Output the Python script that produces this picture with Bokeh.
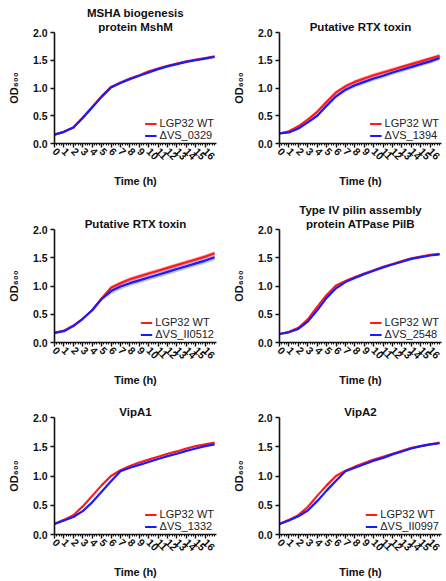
import math
from bokeh.plotting import figure
from bokeh.layouts import gridplot
from bokeh.models import Title, Legend, LegendItem, FixedTicker, ColumnDataSource, Range1d, CustomJSTickFormatter
from bokeh.embed import file_html
from bokeh.resources import INLINE

time_h = [0, 1, 2, 3, 4, 5, 6, 7, 8, 9, 10, 11, 12, 13, 14, 15, 16, 17]
x_ticks = list(range(0, 17))
y_ticks = [0.0, 0.5, 1.0, 1.5, 2.0]

wt_label = "LGP32 WT"

titles = [
    ["MSHA biogenesis", "protein MshM"],
    ["Putative RTX toxin"],
    ["Putative RTX toxin"],
    ["Type IV pilin assembly", "protein ATPase PilB"],
    ["VipA1"],
    ["VipA2"],
]
mutant_labels = ["ΔVS_0329", "ΔVS_1394", "ΔVS_II0512", "ΔVS_2548", "ΔVS_1332", "ΔVS_II0997"]

wt1 = [0.16, 0.21, 0.29, 0.47, 0.66, 0.85, 1.02, 1.10, 1.17, 1.23, 1.30, 1.35, 1.40, 1.44, 1.48, 1.51, 1.54, 1.57]
mut1 = [0.16, 0.21, 0.29, 0.46, 0.65, 0.84, 1.01, 1.09, 1.16, 1.22, 1.28, 1.34, 1.39, 1.43, 1.47, 1.50, 1.53, 1.56]

wt2 = [0.18, 0.22, 0.31, 0.43, 0.57, 0.75, 0.92, 1.03, 1.11, 1.17, 1.23, 1.28, 1.33, 1.38, 1.43, 1.48, 1.53, 1.58]
mut2 = [0.18, 0.20, 0.27, 0.38, 0.50, 0.68, 0.85, 0.97, 1.05, 1.11, 1.17, 1.22, 1.28, 1.33, 1.38, 1.43, 1.48, 1.54]
wt2_sd = [0.01, 0.01, 0.02, 0.02, 0.03, 0.03, 0.035, 0.035, 0.035, 0.035, 0.035, 0.035, 0.035, 0.035, 0.035, 0.035, 0.035, 0.035]
mut2_sd = [0.01, 0.01, 0.02, 0.02, 0.03, 0.035, 0.04, 0.04, 0.04, 0.04, 0.04, 0.04, 0.04, 0.04, 0.04, 0.04, 0.04, 0.04]

wt3 = [0.17, 0.21, 0.30, 0.42, 0.57, 0.78, 0.97, 1.05, 1.12, 1.17, 1.22, 1.27, 1.32, 1.37, 1.42, 1.47, 1.52, 1.58]
mut3 = [0.17, 0.20, 0.29, 0.42, 0.57, 0.77, 0.91, 0.99, 1.05, 1.10, 1.15, 1.20, 1.25, 1.30, 1.35, 1.40, 1.45, 1.51]
wt3_sd = [0.01, 0.01, 0.01, 0.01, 0.02, 0.02, 0.035, 0.035, 0.035, 0.035, 0.035, 0.035, 0.035, 0.035, 0.035, 0.035, 0.035, 0.035]
mut3_sd = [0.01, 0.01, 0.01, 0.01, 0.02, 0.03, 0.05, 0.05, 0.05, 0.05, 0.05, 0.05, 0.05, 0.05, 0.05, 0.05, 0.05, 0.05]

wt4 = [0.15, 0.19, 0.26, 0.41, 0.63, 0.84, 1.01, 1.09, 1.16, 1.22, 1.28, 1.34, 1.39, 1.44, 1.49, 1.52, 1.55, 1.57]
mut4 = [0.15, 0.18, 0.24, 0.37, 0.57, 0.79, 0.96, 1.07, 1.14, 1.21, 1.27, 1.33, 1.38, 1.43, 1.48, 1.51, 1.54, 1.56]

wt5 = [0.185, 0.25, 0.33, 0.48, 0.66, 0.84, 1.00, 1.10, 1.17, 1.23, 1.28, 1.33, 1.38, 1.42, 1.47, 1.51, 1.54, 1.57]
mut5 = [0.18, 0.24, 0.30, 0.40, 0.55, 0.73, 0.91, 1.08, 1.14, 1.19, 1.24, 1.29, 1.34, 1.38, 1.43, 1.47, 1.51, 1.54]

wt6 = [0.18, 0.25, 0.33, 0.47, 0.66, 0.84, 1.00, 1.09, 1.16, 1.22, 1.28, 1.33, 1.38, 1.43, 1.48, 1.51, 1.54, 1.57]
mut6 = [0.18, 0.24, 0.31, 0.41, 0.57, 0.75, 0.92, 1.08, 1.14, 1.20, 1.26, 1.31, 1.37, 1.42, 1.47, 1.51, 1.54, 1.56]

wt_series = [wt1, wt2, wt3, wt4, wt5, wt6]
mut_series = [mut1, mut2, mut3, mut4, mut5, mut6]
wt_sds = [None, wt2_sd, wt3_sd, None, None, None]
mut_sds = [None, mut2_sd, mut3_sd, None, None, None]

RED = "#ff1a1a"
BLUE = "#1a1aff"
FONT = "Liberation Sans"

# width, height, left, right, top, bottom borders
geom = [
    (228, 195, 53, 12, 32, 49),
    (218, 195, 39, 5, 22, 52),
    (228, 195, 52, 2, 31, 42),
    (218, 195, 51, 4, 34, 48),
    (228, 191, 54, 2, 24, 37),
    (218, 191, 48, 4, 27, 44),
]


def make_panel(i):
    w, h, bl, br, bt, bb = geom[i]
    p = figure(width=w, height=h, output_backend="svg", toolbar_location=None,
               x_range=Range1d(0, 17.2), y_range=Range1d(0, 2.0),
               min_border_left=bl, min_border_right=br,
               min_border_top=bt, min_border_bottom=bb)
    p.outline_line_color = None
    p.grid.visible = False
    p.background_fill_color = "white"
    p.border_fill_color = "white"

    for line in reversed(titles[i]):
        p.add_layout(Title(text=line, align="center", text_font=FONT,
                           text_font_size="11.5px", text_font_style="bold",
                           text_color="#111111", standoff=0, offset=0), "above")

    p.xaxis.ticker = FixedTicker(ticks=x_ticks,
                                 minor_ticks=[k * 0.25 for k in range(0, 69)])
    p.yaxis.ticker = FixedTicker(ticks=y_ticks)
    p.yaxis.formatter = CustomJSTickFormatter(code="return tick.toFixed(1);")
    p.xaxis.major_label_orientation = -math.pi / 4
    for ax in (p.xaxis, p.yaxis):
        ax.axis_line_width = 1.6
        ax.axis_line_color = "#111111"
        ax.major_tick_line_width = 1.4
        ax.major_tick_line_color = "#111111"
        ax.major_tick_out = 4
        ax.major_tick_in = 0
        ax.major_label_text_font = FONT
        ax.major_label_text_font_style = "bold"
        ax.major_label_text_font_size = "10.5px"
        ax.major_label_text_color = "#111111"
        ax.axis_label_text_font = FONT
        ax.axis_label_text_font_style = "bold"
        ax.axis_label_text_font_size = "11px"
        ax.axis_label_text_color = "#111111"
    p.yaxis.minor_tick_line_color = None
    p.xaxis.minor_tick_out = 2
    p.xaxis.minor_tick_in = 0
    p.xaxis.minor_tick_line_color = "#111111"
    p.xaxis.major_label_standoff = 2
    p.yaxis.major_label_standoff = 3
    p.xaxis.axis_label = "Time (h)"
    p.xaxis.axis_label_standoff = 9
    p.yaxis.axis_label = "OD₆₀₀"
    p.yaxis.axis_label_standoff = 10

    src = ColumnDataSource(dict(t=time_h, wt=wt_series[i], mut=mut_series[i]))
    if wt_sds[i] is not None:
        wt_lo = [a - b for a, b in zip(wt_series[i], wt_sds[i])]
        wt_hi = [a + b for a, b in zip(wt_series[i], wt_sds[i])]
        mu_lo = [a - b for a, b in zip(mut_series[i], mut_sds[i])]
        mu_hi = [a + b for a, b in zip(mut_series[i], mut_sds[i])]
        p.varea(x=time_h, y1=mu_lo, y2=mu_hi, fill_color="#7a7aff", fill_alpha=0.5)
        p.varea(x=time_h, y1=wt_lo, y2=wt_hi, fill_color="#ff6060", fill_alpha=0.5)

    r_wt = p.line("t", "wt", source=src, line_color=RED, line_width=2.2)
    r_mut = p.line("t", "mut", source=src, line_color=BLUE, line_width=2.2)

    legend = Legend(items=[LegendItem(label=wt_label, renderers=[r_wt]),
                           LegendItem(label=mutant_labels[i], renderers=[r_mut])],
                    location="bottom_right", border_line_color=None,
                    background_fill_alpha=0, label_text_font=FONT,
                    label_text_font_size="11px", label_text_color="#222222",
                    label_height=9, glyph_height=9, glyph_width=12,
                    label_standoff=3, spacing=0, padding=2, margin=2)
    p.add_layout(legend)
    return p


panels = [make_panel(i) for i in range(6)]
grid = gridplot([[panels[0], panels[1]], [panels[2], panels[3]], [panels[4], panels[5]]],
                toolbar_location=None)

open("out.html", "w").write(file_html(grid, INLINE))
